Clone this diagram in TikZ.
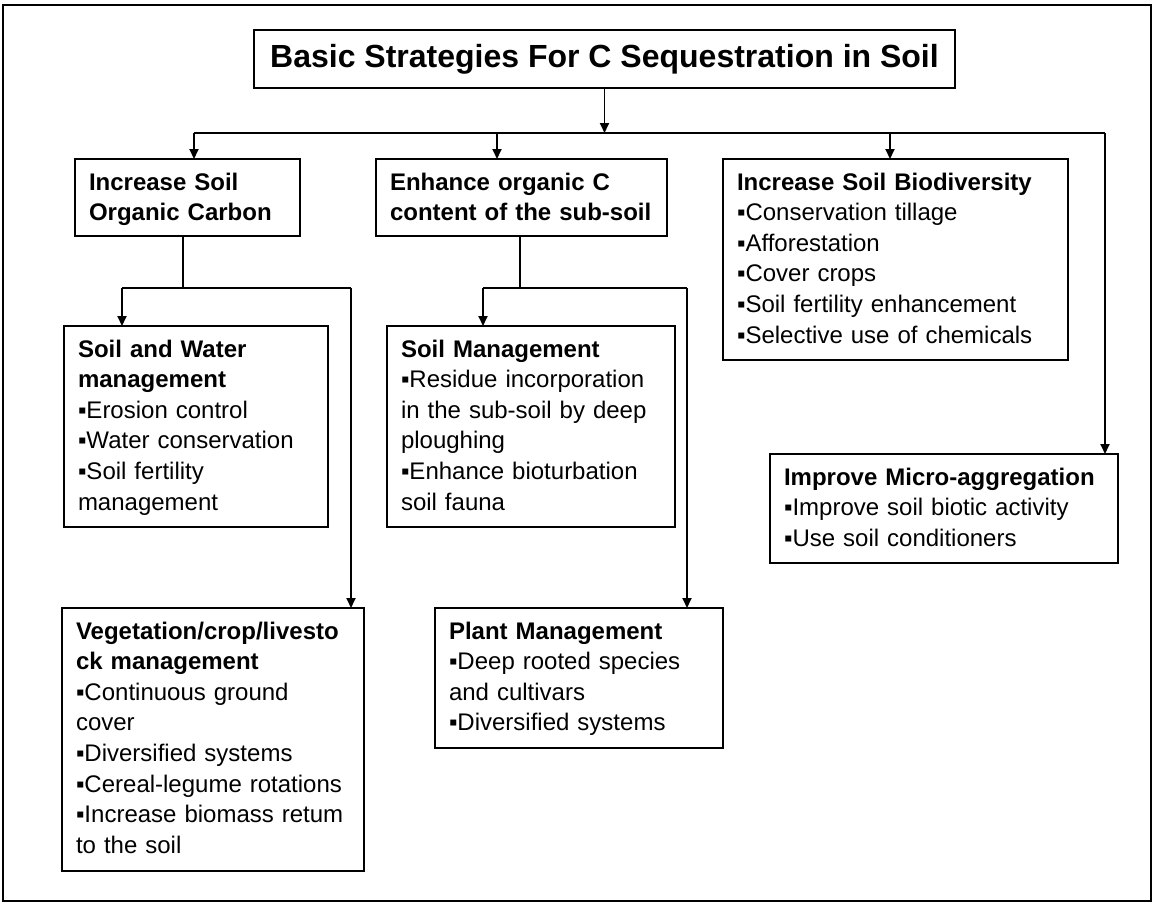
\documentclass[tikz,border=0pt]{standalone}
\usepackage{fontspec}
\setmainfont{Liberation Sans}
\usetikzlibrary{arrows.meta}
\begin{document}
\begin{tikzpicture}[x=1pt,y=-1pt,
  box/.style={draw, line width=1.8pt, rectangle, inner sep=0pt, outer sep=0pt, anchor=north west},
  txt/.style={anchor=north west, inner sep=0pt, outer sep=0pt, align=left, text width=420pt, font=\fontsize{24}{30.6}\selectfont},
  ln/.style={line width=1.8pt},
  arr/.style={line width=1.8pt, -{Triangle[length=10pt,width=9pt]}},
]
\useasboundingbox (0,0) rectangle (1152,902);
\fill[white] (0,0) rectangle (1152,902);
\draw[line width=1.5pt] (3,5) rectangle (1151,901);

% title
\node[box, anchor=center, minimum width=701pt, minimum height=58pt, font=\fontsize{32}{38}\selectfont\bfseries] (T) at (604.5,59) {Basic Strategies For C Sequestration in Soil};

% level 1
\node[box, minimum width=225pt, minimum height=77pt] (A) at (75,159) {};
\node[txt] (At) at (89,168.6) {\strut\textbf{Increase Soil\\Organic Carbon}};

\node[box, minimum width=291pt, minimum height=77pt] (B) at (376,159) {};
\node[txt] (Bt) at (390,168.6) {\strut\textbf{Enhance organic C\\content of the sub-soil}};

\node[box, minimum width=345pt, minimum height=201pt] (C) at (723,159) {};
\node[txt] (Ct) at (737,168.6) {\strut\textbf{Increase Soil Biodiversity}\\▪Conservation tillage\\▪Afforestation\\▪Cover crops\\▪Soil fertility enhancement\\▪Selective use of chemicals};

% level 2
\node[box, minimum width=264pt, minimum height=201pt] (D) at (64,326) {};
\node[txt] (Dt) at (78,335.6) {\strut\textbf{Soil and Water\\management}\\▪Erosion control\\▪Water conservation\\▪Soil fertility\\management};

\node[box, minimum width=288pt, minimum height=201pt] (F) at (387,326) {};
\node[txt] (Ft) at (401,335.6) {\strut\textbf{Soil Management}\\▪Residue incorporation\\in the sub-soil by deep\\ploughing\\▪Enhance bioturbation\\soil fauna};

\node[box, minimum width=348pt, minimum height=109pt] (H) at (770,454) {};
\node[txt] (Ht) at (784,463.6) {\strut\textbf{Improve Micro-aggregation}\\▪Improve soil biotic activity\\▪Use soil conditioners};

% level 3
\node[box, minimum width=302pt, minimum height=263pt] (E) at (62,608) {};
\node[txt] (Et) at (76,617.6) {\strut\textbf{Vegetation/crop/livesto\\ck management}\\▪Continuous ground\\cover\\▪Diversified systems\\▪Cereal-legume rotations\\▪Increase biomass retum\\to the soil};

\node[box, minimum width=288pt, minimum height=140pt] (G) at (435,608) {};
\node[txt] (Gt) at (449,617.6) {\strut\textbf{Plant Management}\\▪Deep rooted species\\and cultivars\\▪Diversified systems};

% top bus
\coordinate (busL) at (194,133);
\coordinate (busR) at (1105,133);
\coordinate (bB) at (497,133);
\coordinate (bC) at (890,133);
\draw[arr] (T.south) -- (T.south |- busL);
\draw[ln] (busL) -- (busR);
\draw[arr] (busL) -- (busL |- A.north);
\draw[arr] (bB) -- (bB |- B.north);
\draw[arr] (bC) -- (bC |- C.north);
\draw[arr] (busR) -- (busR |- H.north);

% A subtree
\coordinate (a1) at (183,288);
\coordinate (aL) at (122,288);
\coordinate (aR) at (351,288);
\draw[ln] (a1 |- A.south) -- (a1);
\draw[ln] (aL) -- (aR);
\draw[arr] (aL) -- (aL |- D.north);
\draw[arr] (aR) -- (aR |- E.north);

% B subtree
\coordinate (b1) at (520,288);
\coordinate (bL) at (483,288);
\coordinate (bR) at (687,288);
\draw[ln] (b1 |- B.south) -- (b1);
\draw[ln] (bL) -- (bR);
\draw[arr] (bL) -- (bL |- F.north);
\draw[arr] (bR) -- (bR |- G.north);
\end{tikzpicture}
\end{document}
